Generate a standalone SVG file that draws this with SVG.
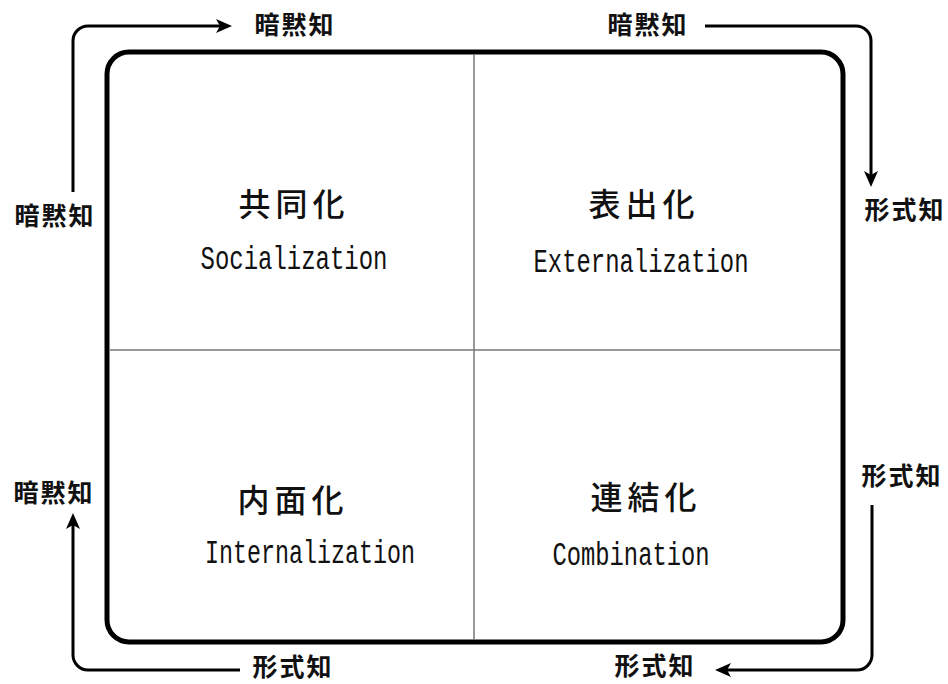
<svg xmlns="http://www.w3.org/2000/svg" width="948" height="684" viewBox="0 0 948 684">
<style>
.frame{fill:none;stroke:#000;stroke-width:5}
.div{stroke:#777;stroke-width:1.5}
.arr{fill:none;stroke:#000;stroke-width:3;marker-end:url(#ah)}
.t{font-family:"Noto Sans CJK JP","Noto Sans CJK SC",sans-serif;font-size:32px;font-weight:500;letter-spacing:5px;text-anchor:middle;fill:#111}
.e{font-family:"Liberation Mono","DejaVu Sans Mono",monospace;font-size:33px;text-anchor:middle;fill:#111}
.l{font-family:"Noto Sans CJK JP","Noto Sans CJK SC",sans-serif;font-size:25px;font-weight:700;letter-spacing:2px;text-anchor:middle;fill:#111}
</style>
<defs>
<marker id="ah" viewBox="0 -8 16 16" markerWidth="16" markerHeight="16" refX="5" refY="0" orient="auto" markerUnits="userSpaceOnUse">
<path d="M0,-7 L16,0 L0,7 L4,0 z" fill="#000"/>
</marker>
</defs>
<rect id="bg" x="0" y="0" width="948" height="684" fill="#fff"/>
<g id="frame">
<rect class="frame" x="107" y="52" width="736" height="590" rx="22" ry="22"/>
<line class="div" x1="474" y1="54" x2="474" y2="640"/>
<line class="div" x1="109" y1="350" x2="841" y2="350"/>
</g>
<g id="socialization">
<text class="t" x="294" y="216">共同化</text>
<text class="e" x="294" y="269" textLength="187" lengthAdjust="spacingAndGlyphs">Socialization</text>
</g>
<g id="externalization">
<text class="t" x="644" y="216">表出化</text>
<text class="e" x="641" y="272" textLength="215" lengthAdjust="spacingAndGlyphs">Externalization</text>
</g>
<g id="internalization">
<text class="t" x="293" y="512">内面化</text>
<text class="e" x="310" y="563" textLength="210" lengthAdjust="spacingAndGlyphs">Internalization</text>
</g>
<g id="combination">
<text class="t" x="646" y="509">連結化</text>
<text class="e" x="631" y="565" textLength="157" lengthAdjust="spacingAndGlyphs">Combination</text>
</g>
<g id="connectors">
<path class="arr" d="M73,192 V41 A15,15 0 0 1 88,26 H221"/>
<path class="arr" d="M705,26 H856 A15,15 0 0 1 871,41 V176"/>
<path class="arr" d="M872,505 V655 A15,15 0 0 1 857,670 H726"/>
<path class="arr" d="M240,670 H88 A15,15 0 0 1 73,655 V524"/>
</g>
<g id="labels">
<text class="l" x="295" y="34">暗黙知</text>
<text class="l" x="55" y="225">暗黙知</text>
<text class="l" x="648" y="34">暗黙知</text>
<text class="l" x="905" y="219">形式知</text>
<text class="l" x="54" y="502">暗黙知</text>
<text class="l" x="293" y="676">形式知</text>
<text class="l" x="902" y="485">形式知</text>
<text class="l" x="655" y="675">形式知</text>
</g>
</svg>
